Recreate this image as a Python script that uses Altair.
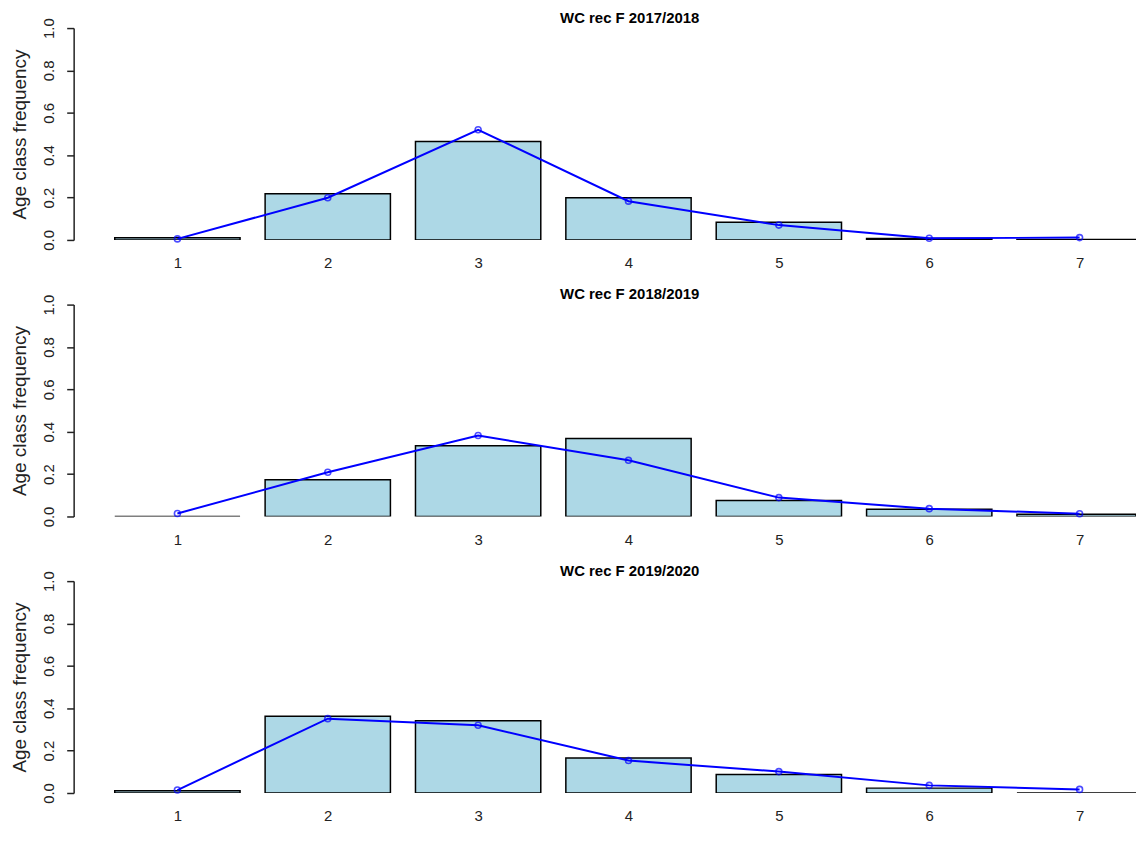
import altair as alt
import pandas as pd

ages = [1, 2, 3, 4, 5, 6, 7]
panel_titles = ["WC rec F 2017/2018", "WC rec F 2018/2019", "WC rec F 2019/2020"]

obs_1718 = [0.010, 0.218, 0.465, 0.199, 0.083, 0.007, 0.002]
fit_1718 = [0.005, 0.199, 0.520, 0.183, 0.070, 0.008, 0.011]

obs_1819 = [0.000, 0.173, 0.334, 0.368, 0.075, 0.034, 0.011]
fit_1819 = [0.014, 0.209, 0.382, 0.265, 0.089, 0.037, 0.013]

obs_1920 = [0.011, 0.362, 0.341, 0.165, 0.087, 0.023, 0.000]
fit_1920 = [0.014, 0.351, 0.320, 0.153, 0.101, 0.036, 0.017]

y_ticks = [0.0, 0.2, 0.4, 0.6, 0.8, 1.0]
y_title = "Age class frequency"

# R barplot layout: bar width 1, space 0.2 -> bar i spans [0.2+1.2(i-1), 1.2 i]
BAR_SPACE = 0.2
BAR_WIDTH = 1.0
x_ticks = [BAR_SPACE + (BAR_SPACE + BAR_WIDTH) * (a - 1) + BAR_WIDTH / 2 for a in ages]

FONT = "Liberation Sans"
PLOT_W = 1068
PLOT_H = 213
X_MIN = -0.128
X_MAX = X_MIN + PLOT_W / 125.97


def panel(title, obs, fit):
    df = pd.DataFrame({"age": ages, "obs": obs, "fit": fit})
    xscale = alt.Scale(domain=[X_MIN, X_MAX], nice=False, zero=False, clamp=True)
    yscale = alt.Scale(domain=[0, 1], nice=False, zero=True)
    xaxis = alt.Axis(
        title=None, domain=False, ticks=False, grid=False, values=x_ticks,
        labelExpr="round((datum.value - 0.7) / 1.2) + 1",
        labelAngle=0, labelFontSize=15, labelFont=FONT, labelColor="#222222",
        labelPadding=16, labelOverlap=False, labelFlush=False,
    )
    yaxis = alt.Axis(
        title=y_title, values=y_ticks, format=".1f", labelAngle=-90, labelAlign="center",
        labelBaseline="bottom", labelFontSize=15, labelFont=FONT, labelColor="#222222",
        labelPadding=10, tickSize=7, tickWidth=1.5, tickColor="#222222",
        domainColor="#222222", domainWidth=1.5, grid=False,
        titleFont=FONT, titleFontSize=19, titleFontWeight="normal", titleColor="#222222",
        titlePadding=12,
    )
    base = alt.Chart(df).transform_calculate(
        left=f"{BAR_SPACE} + {BAR_SPACE + BAR_WIDTH} * (datum.age - 1)",
        right=f"{BAR_SPACE + BAR_WIDTH} * datum.age",
        mid=f"{BAR_SPACE} + {BAR_SPACE + BAR_WIDTH} * (datum.age - 1) + {BAR_WIDTH / 2}",
    )
    bars = base.mark_rect(fill="#ADD8E6", stroke="black", strokeWidth=1.5, clip=True).encode(
        x=alt.X("left:Q", scale=xscale, axis=xaxis),
        x2="right:Q",
        y=alt.Y("obs:Q", scale=yscale, axis=yaxis),
        y2=alt.datum(0),
    )
    line = base.mark_line(color="#0000FF", strokeWidth=2).encode(
        x=alt.X("mid:Q", scale=xscale, axis=xaxis),
        y=alt.Y("fit:Q", scale=yscale, axis=yaxis),
    )
    pts = base.mark_point(shape="circle", filled=False, color="#0000FF", size=36, strokeWidth=1.6).encode(
        x=alt.X("mid:Q", scale=xscale, axis=xaxis),
        y=alt.Y("fit:Q", scale=yscale, axis=yaxis),
    )
    return alt.layer(bars, line, pts).properties(
        width=PLOT_W,
        height=PLOT_H,
        title=alt.TitleParams(
            text=title, font=FONT, fontSize=15, fontWeight="bold", color="black",
            anchor="middle", frame="group", dx=25, offset=-8,
        ),
    )


chart = alt.vconcat(
    panel(panel_titles[0], obs_1718, fit_1718),
    panel(panel_titles[1], obs_1819, fit_1819),
    panel(panel_titles[2], obs_1920, fit_1920),
    spacing=16,
).properties(
    padding={"left": 2, "top": 0, "right": 0, "bottom": 0},
    background="white",
).configure_view(strokeWidth=0)

chart.save("out.html", embed_options={"renderer": "svg", "actions": False})
